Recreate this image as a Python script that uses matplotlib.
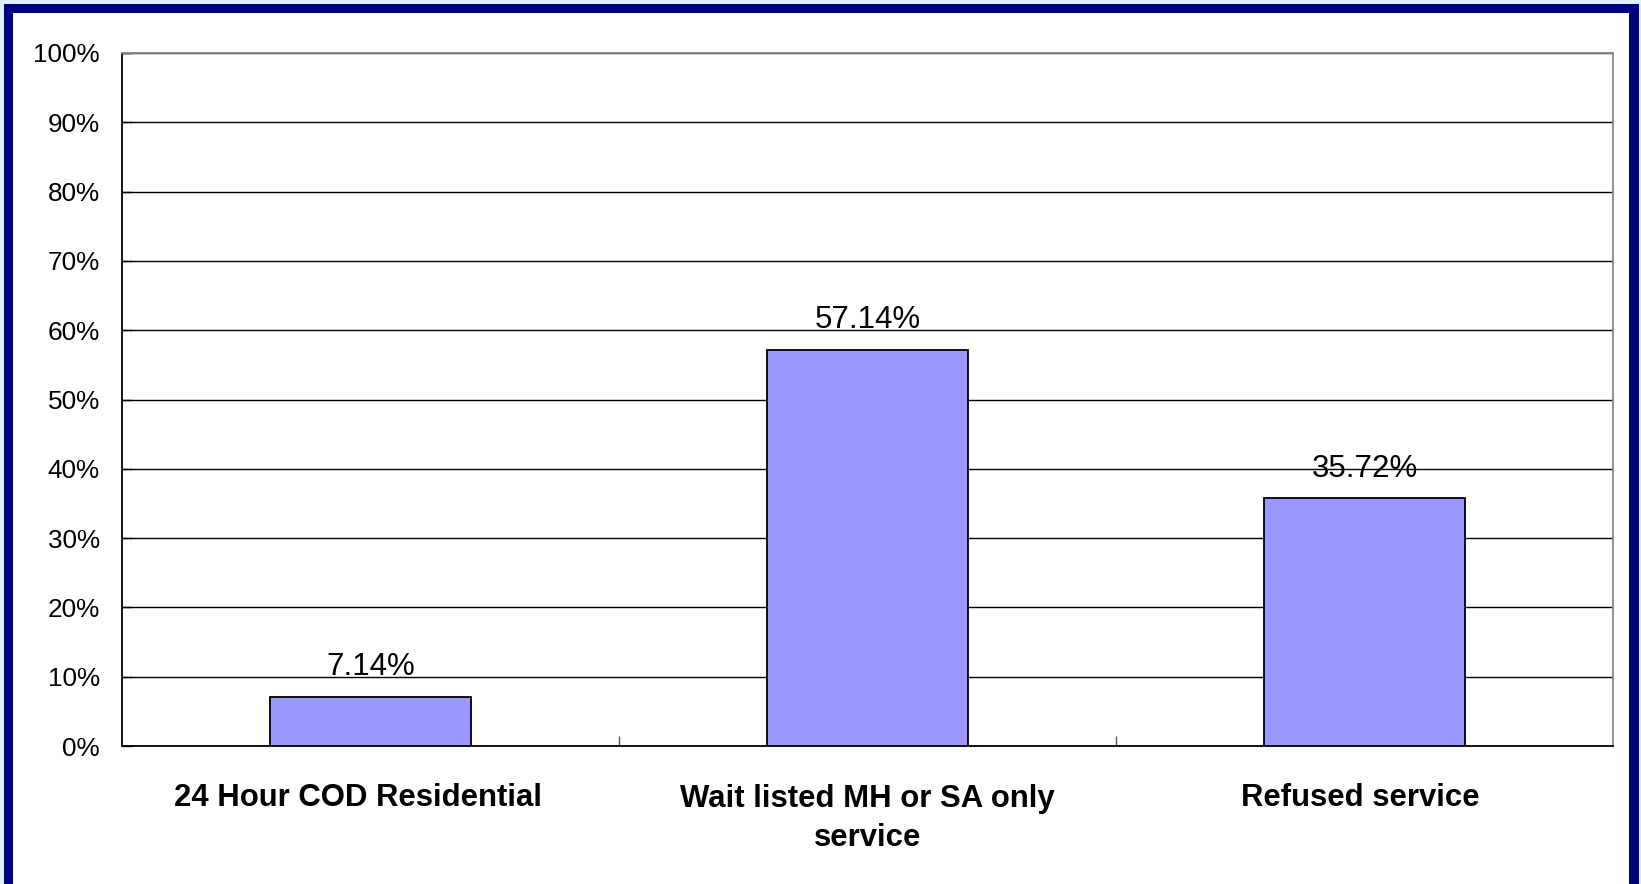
import matplotlib
matplotlib.use("Agg")
import matplotlib.pyplot as plt
from matplotlib.patches import Rectangle
from matplotlib.ticker import FixedLocator
from matplotlib.transforms import ScaledTranslation

categories = ["24 Hour COD Residential", "Wait listed MH or SA only\nservice", "Refused service"]
values = [7.14, 57.14, 35.72]
value_labels = ["7.14%", "57.14%", "35.72%"]
yticks = [0, 10, 20, 30, 40, 50, 60, 70, 80, 90, 100]
ytick_labels = [f"{t}%" for t in yticks]

W, H = 1641, 884
DPI = 100
plt.rcParams['font.family'] = ['Liberation Sans', 'DejaVu Sans']

fig = plt.figure(figsize=(W / DPI, H / DPI), dpi=DPI, facecolor="#DDF0FF")

def px_rect(x0, y0, x1, y1, color):
    fig.patches.append(Rectangle((x0 / W, 1 - y1 / H), (x1 - x0) / W, (y1 - y0) / H,
                                 transform=fig.transFigure, facecolor=color,
                                 edgecolor='none', zorder=-10))

px_rect(4, 4, 1639, H + 10, "#000080")
px_rect(13, 13, 1629, H + 10, "white")

left, top, right, bottom = 122, 53, 1613, 746
ax = fig.add_axes([left / W, 1 - bottom / H, (right - left) / W, (bottom - top) / H])
ax.set_facecolor("white")

x = list(range(len(categories)))
ax.bar(x, values, width=0.405, color="#9999FF", edgecolor="black", linewidth=1.3, zorder=3)
for xi, v, lab in zip(x, values, value_labels):
    ax.text(xi, v + 4.3, lab, ha="center", va="center", fontsize=22.5, color="black", zorder=4)

ax.set_xlim(-0.5, len(categories) - 0.5)
ax.set_ylim(0, 100)
ax.set_yticks(yticks)
ax.set_yticklabels(ytick_labels, fontsize=18.8)
ax.yaxis.grid(True, color="#000000", linewidth=1.0, zorder=0)
ax.set_axisbelow(True)
ax.tick_params(axis='y', direction='in', length=7, width=1, pad=16, colors='black')

ax.set_xticks(x)
ax.set_xticklabels(categories, fontsize=22.4, fontweight='bold', linespacing=1.42)
ax.tick_params(axis='x', which='major', length=0, pad=27)
ax.xaxis.set_minor_locator(FixedLocator([0.5, 1.5]))
ax.tick_params(axis='x', which='minor', direction='in', length=7, width=1, color='#555555')

# small horizontal offsets of the category labels, as in the reference
label_shifts_px = [-12, 0, -4]
for lab, dx in zip(ax.get_xticklabels(), label_shifts_px):
    lab.set_transform(lab.get_transform() + ScaledTranslation(dx / DPI, 0, fig.dpi_scale_trans))

for s in ['left', 'bottom']:
    ax.spines[s].set_color('black')
    ax.spines[s].set_linewidth(1.3)
for s in ['top', 'right']:
    ax.spines[s].set_color('#888888')
    ax.spines[s].set_linewidth(1.3)

fig.savefig("out.png", dpi=DPI, facecolor=fig.get_facecolor())
